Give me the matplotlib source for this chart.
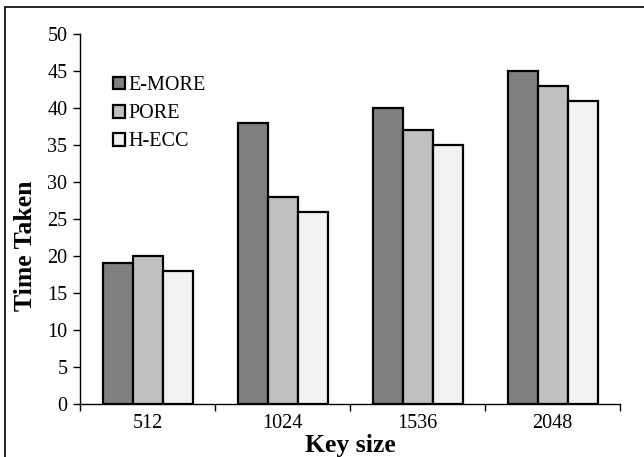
import numpy as np
import matplotlib
matplotlib.use("Agg")
import matplotlib.pyplot as plt
from matplotlib.patches import Rectangle

plt.rcParams["font.family"] = ["Liberation Serif", "DejaVu Serif"]

# Data
key_sizes = ["512", "1024", "1536", "2048"]
series_names = ["E-MORE", "PORE", "H-ECC"]
e_more = [19, 38, 40, 45]
pore = [20, 28, 37, 43]
h_ecc = [18, 26, 35, 41]
colors = ["#808080", "#C0C0C0", "#F2F2F2"]

fig = plt.figure(figsize=(6.44, 4.57), dpi=100)
ax = fig.add_axes([80 / 644, 1 - 404 / 457, 540 / 644, 370 / 457])

x = np.arange(len(key_sizes))
width = 1 / 4.5
for i, (vals, name) in enumerate(zip([e_more, pore, h_ecc], series_names)):
    ax.bar(x + (i - 1) * width, vals, width=width, color=colors[i],
           edgecolor="black", linewidth=1.6, label=name)

ax.set_xlim(-0.5, len(key_sizes) - 0.5)
ax.set_ylim(0, 50)
ax.set_yticks(range(0, 51, 5))
ax.set_xticks(x)
ax.set_xticklabels(key_sizes)
ax.set_xticks(np.arange(-0.5, len(key_sizes), 1), minor=True)
ax.tick_params(axis="x", which="major", length=0, labelsize=14.5, pad=7)
ax.tick_params(axis="x", which="minor", length=5, width=1, direction="out")
ax.tick_params(axis="y", length=5, width=1, labelsize=14.5, direction="out", pad=4)

for s in ["top", "right"]:
    ax.spines[s].set_visible(False)
for s in ["left", "bottom"]:
    ax.spines[s].set_linewidth(1)

ax.set_xlabel("Key size", fontsize=18.5, fontweight="bold", labelpad=1)
ax.set_ylabel("Time Taken", fontsize=18.5, fontweight="bold")
ax.yaxis.set_label_coords(-0.08, 0.427)

ax.legend(loc="upper left", bbox_to_anchor=(33 / 540, 0.886), frameon=False,
          fontsize=14.5, handlelength=0.6, handleheight=0.6, handletextpad=0.15,
          labelspacing=0.45, borderpad=0, borderaxespad=0)

# Outer border
fig.patches.append(Rectangle((5 / 644, -0.02), 1.0, 1 - 7 / 457 + 0.02,
                             transform=fig.transFigure, fill=False,
                             edgecolor="black", linewidth=1.2))

fig.savefig("out.png", dpi=100)
